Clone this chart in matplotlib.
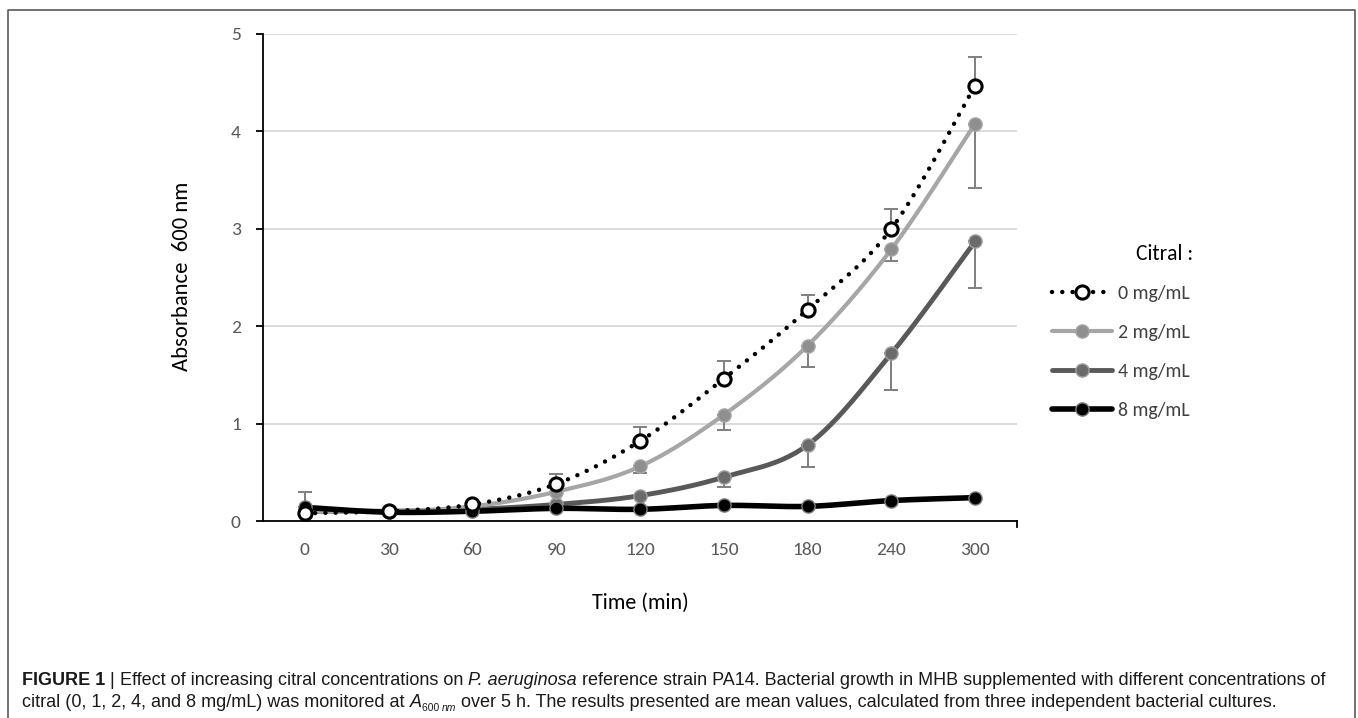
import numpy as np
import matplotlib
matplotlib.use("Agg")
import matplotlib.pyplot as plt
from matplotlib import font_manager
from matplotlib.lines import Line2D

# ---------------- data ----------------
time_labels = ["0", "30", "60", "90", "120", "150", "180", "240", "300"]
series_names = ["0 mg/mL", "2 mg/mL", "4 mg/mL", "8 mg/mL"]
abs_0 = [0.08, 0.10, 0.17, 0.38, 0.82, 1.46, 2.17, 3.00, 4.47]
abs_2 = [0.10, 0.10, 0.15, 0.30, 0.56, 1.09, 1.80, 2.79, 4.08]
abs_4 = [0.10, 0.10, 0.12, 0.17, 0.26, 0.45, 0.78, 1.72, 2.87]
abs_8 = [0.14, 0.09, 0.10, 0.13, 0.12, 0.16, 0.15, 0.21, 0.24]
err_0_up = [0.00, 0.00, 0.00, 0.10, 0.15, 0.18, 0.15, 0.20, 0.29]
err_2_dn = [0.00, 0.00, 0.00, 0.02, 0.07, 0.16, 0.22, 0.12, 0.66]
err_4_dn = [0.00, 0.00, 0.00, 0.00, 0.02, 0.10, 0.23, 0.37, 0.48]
err_8_up = [0.16, 0.00, 0.00, 0.00, 0.00, 0.00, 0.00, 0.00, 0.00]
y_ticks = [0, 1, 2, 3, 4, 5]

# ---------------- fonts ----------------
def has_font(name):
    try:
        font_manager.findfont(font_manager.FontProperties(family=name), fallback_to_default=False)
        return True
    except Exception:
        return False

chart_font = "Open Sans"
for f in ["Carlito", "Lato", "Open Sans"]:
    if has_font(f):
        chart_font = f
        break
cap_font = "Liberation Sans Narrow" if has_font("Liberation Sans Narrow") else "Liberation Sans"

W, H = 1358, 718
fig = plt.figure(figsize=(W / 100, H / 100), dpi=100)
fig.patch.set_facecolor("white")

def fx(px):
    return px / W

def fy(py):
    return 1 - py / H

ax = fig.add_axes([fx(263), fy(521), fx(1017) - fx(263), fy(34) - fy(521)])

x = np.arange(len(time_labels))

def smooth(xs, ys, n=30):
    xs = np.asarray(xs, float)
    ys = np.asarray(ys, float)
    px, py = [xs[0]], [ys[0]]
    m = len(xs)
    for i in range(m - 1):
        p0 = np.array([xs[max(i - 1, 0)], ys[max(i - 1, 0)]])
        p1 = np.array([xs[i], ys[i]])
        p2 = np.array([xs[i + 1], ys[i + 1]])
        p3 = np.array([xs[min(i + 2, m - 1)], ys[min(i + 2, m - 1)]])
        c1 = p1 + (p2 - p0) / 6
        c2 = p2 - (p3 - p1) / 6
        t = np.linspace(0, 1, n)[1:]
        b = ((1 - t) ** 3)[:, None] * p1 + (3 * (1 - t) ** 2 * t)[:, None] * c1 \
            + (3 * (1 - t) * t ** 2)[:, None] * c2 + (t ** 3)[:, None] * p2
        px.extend(b[:, 0]); py.extend(b[:, 1])
    return np.array(px), np.array(py)

err_col = "#7f7f7f"
zeros = np.zeros(len(x))
ax.errorbar(x, abs_0, yerr=[zeros, err_0_up], fmt="none", ecolor=err_col,
            elinewidth=1.4, capsize=5, capthick=1.4, zorder=2)
ax.errorbar(x, abs_2, yerr=[err_2_dn, zeros], fmt="none", ecolor=err_col,
            elinewidth=1.4, capsize=5, capthick=1.4, zorder=2)
ax.errorbar(x, abs_4, yerr=[err_4_dn, zeros], fmt="none", ecolor=err_col,
            elinewidth=1.4, capsize=5, capthick=1.4, zorder=2)
ax.errorbar(x, abs_8, yerr=[zeros, err_8_up], fmt="none", ecolor=err_col,
            elinewidth=1.4, capsize=5, capthick=1.4, zorder=2)

styles = [
    dict(data=abs_0, lc="black", lw=3.2, ls=(0, (0.01, 2.3)), mfc="white", mec="black", mew=2.2, z=6),
    dict(data=abs_2, lc="#a6a6a6", lw=3.0, ls="-", mfc="#8f8f8f", mec="#a6a6a6", mew=1.0, z=4),
    dict(data=abs_4, lc="#595959", lw=3.5, ls="-", mfc="#6b6b6b", mec="#a0a0a0", mew=1.0, z=3),
    dict(data=abs_8, lc="black", lw=4.0, ls="-", mfc="black", mec="#7f7f7f", mew=1.0, z=5),
]
handles = []
for name, st in zip(series_names, styles):
    sx, sy = smooth(x, st["data"])
    ax.plot(sx, sy, color=st["lc"], lw=st["lw"], ls=st["ls"],
            dash_capstyle="round", solid_capstyle="round", zorder=st["z"])
    ax.plot(x, st["data"], ls="none", marker="o", ms=9.5, mfc=st["mfc"], mec=st["mec"],
            mew=st["mew"], zorder=st["z"] + 0.5)
    handles.append(Line2D([0], [0], color=st["lc"], lw=st["lw"], ls=st["ls"],
                          dash_capstyle="round", solid_capstyle="round",
                          marker="o", ms=9.5, mfc=st["mfc"], mec=st["mec"], mew=st["mew"]))

ax.set_xlim(-0.5, len(x) - 0.5)
ax.set_ylim(0, 5)
ax.set_yticks(y_ticks)
ax.set_xticks(x)
ax.set_xticklabels(time_labels)
ax.yaxis.grid(True, color="#d9d9d9", lw=1.3)
ax.set_axisbelow(True)
for s in ["top", "right"]:
    ax.spines[s].set_visible(False)
for s in ["left", "bottom"]:
    ax.spines[s].set_color("black")
    ax.spines[s].set_linewidth(1.3)
ax.tick_params(axis="x", length=0, pad=15, labelsize=14, labelcolor="#595959")
ax.tick_params(axis="y", length=5, width=1.3, pad=11, labelsize=14, labelcolor="#595959")
for lab in ax.get_xticklabels() + ax.get_yticklabels():
    lab.set_fontfamily(chart_font)
ax.plot([len(x) - 0.5, len(x) - 0.5], [0, -0.06], color="black", lw=1.3, clip_on=False)

fig.text(fx(182), fy(276), "Absorbance  600 nm", rotation=90, ha="center", va="center",
         fontsize=16.3, family=chart_font, color="black")
fig.text(fx(640), fy(603), "Time (min)", ha="center", va="center",
         fontsize=15.8, family=chart_font, color="black")

fig.text(fx(1193), fy(254), "Citral :", ha="right", va="center",
         fontsize=15.5, family=chart_font, color="black")
leg = fig.legend(handles, series_names, loc="upper left",
                 bbox_to_anchor=(fx(1052), fy(285)), frameon=False,
                 handlelength=3.0, handletextpad=0.3, labelspacing=1.1,
                 borderaxespad=0, borderpad=0,
                 prop=dict(family=chart_font, size=14.3))
for t in leg.get_texts():
    t.set_color("#404040")

fig.add_artist(Line2D([fx(8), fx(8), fx(1355), fx(1355)], [0, fy(10), fy(10), 0],
                      color="#595959", lw=1.2, transform=fig.transFigure))

fig.canvas.draw()
renderer = fig.canvas.get_renderer()

def draw_runs(runs, x0, y0, size):
    xcur = x0
    for txt, kw in runs:
        kw = dict(kw)
        dy = kw.pop("dy", 0)
        sz = kw.pop("size", size)
        t = fig.text(xcur, y0 + dy, txt, fontsize=sz, family=cap_font, color="#1a1a1a",
                     va="baseline", ha="left", **kw)
        bb = t.get_window_extent(renderer=renderer)
        xcur += bb.width / W

line1 = [("FIGURE 1 ", dict(weight="bold")), ("| ", dict()),
         ("Effect of increasing citral concentrations on ", dict()),
         ("P. aeruginosa", dict(style="italic")),
         (" reference strain PA14. Bacterial growth in MHB supplemented with different concentrations of", dict())]
line2 = [("citral (0, 1, 2, 4, and 8 mg/mL) was monitored at ", dict()),
         ("A", dict(style="italic")),
         ("600 ", dict(size=7.5, dy=-0.006)),
         ("nm", dict(size=7.5, dy=-0.006, style="italic")),
         (" over 5 h. The results presented are mean values, calculated from three independent bacterial cultures.", dict())]

def run_width(runs, size):
    tot = 0
    for txt, kw in runs:
        kw2 = dict(kw); kw2.pop("dy", None); sz = kw2.pop("size", size)
        t = fig.text(0, 0, txt, fontsize=sz, family=cap_font, **kw2)
        tot += t.get_window_extent(renderer=renderer).width
        t.remove()
    return tot

cs = 10.0
wd = run_width(line1, cs)
cs = cs * (1313 / wd)
draw_runs(line1, fx(22), fy(685), cs)
draw_runs(line2, fx(22), fy(707), cs)

fig.savefig("out.png", dpi=100, facecolor="white")
